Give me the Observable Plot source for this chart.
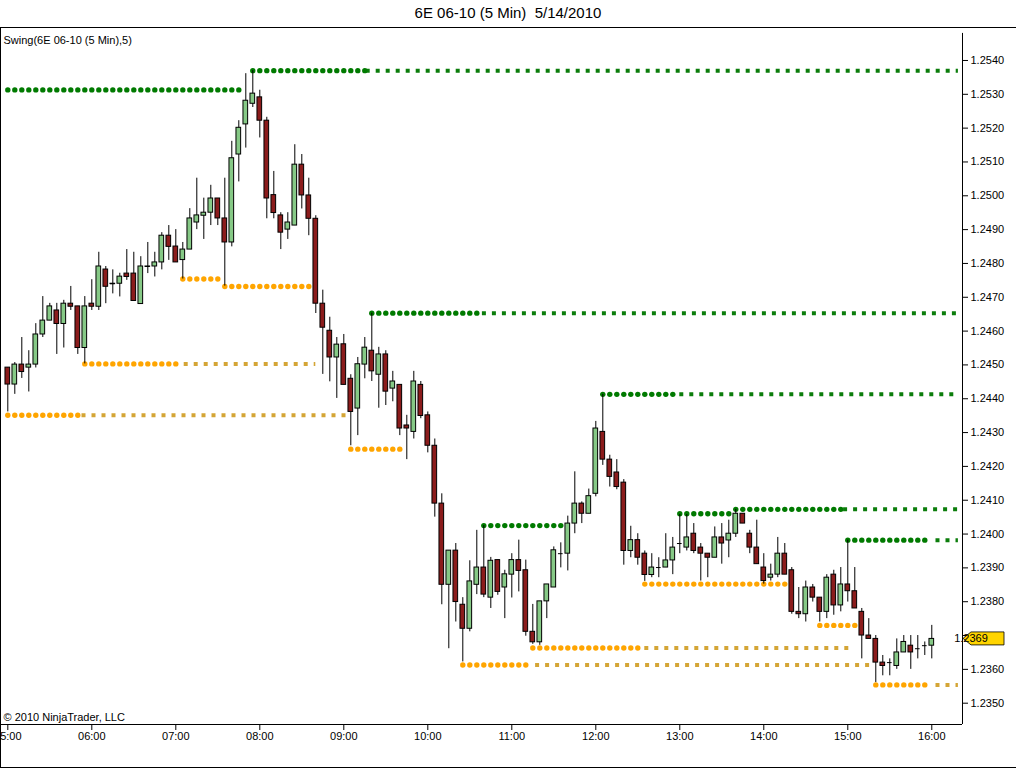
<!DOCTYPE html>
<html>
<head>
<meta charset="utf-8">
<script src="https://cdn.jsdelivr.net/npm/d3@7"></script>
<script src="https://cdn.jsdelivr.net/npm/@observablehq/plot@0.6"></script>
<style>
  body { margin: 0; background: #fff; font-family: "Liberation Sans", Arial, sans-serif; }
  #wrap { position: relative; width: 1016px; height: 768px; overflow: hidden; }
  #title { height: 27px; line-height: 25px; text-align: center; font-size: 15px; white-space: pre; color: #000; }
  #border { position: absolute; left: 0; top: 27px; width: 1016px; height: 741px; box-sizing: border-box;
            border-top: 1px solid #000; border-left: 1px solid #000; border-bottom: 1px solid #000; pointer-events: none; }
</style>
</head>
<body>
<div id="wrap">
  <div id="title">6E 06-10 (5 Min)  5/14/2010</div>
  <div id="chart"></div>
  <div id="border"></div>
</div>
<script>
// 5-minute bars, 05:00 .. 16:00
const firstBar = "05:00";

const open = [
  1.24492,1.24442,1.24501,1.24492,1.24501,1.24590,1.24631,1.24661,1.24621,1.24681,
  1.24673,1.24550,1.24681,1.24672,1.24782,1.24739,1.24740,1.24770,1.24770,1.24680,
  1.24790,1.24791,1.24803,1.24882,1.24850,1.24810,1.24841,1.24921,1.24941,1.24950,
  1.24992,1.24933,1.24862,1.25122,1.25211,1.25272,1.25291,1.25222,1.25002,1.24942,
  1.24900,1.24912,1.25092,1.25001,1.24932,1.24681,1.24601,1.24522,1.24561,1.24459,
  1.24371,1.24501,1.24542,1.24471,1.24531,1.24430,1.24441,1.24321,1.24302,1.24441,
  1.24351,1.24261,1.24090,1.23850,1.23951,1.23791,1.23720,1.23850,1.23901,1.23812,
  1.23923,1.23842,1.23880,1.23923,1.23893,1.23711,1.23680,1.23801,1.23842,1.23942,
  1.23942,1.24031,1.24090,1.24060,1.24119,1.24302,1.24220,1.24182,1.24152,1.23950,
  1.23982,1.23942,1.23879,1.23901,1.23901,1.23922,1.23972,1.23960,1.24001,1.23960,
  1.23942,1.23930,1.23990,1.23981,1.24001,1.24060,1.24001,1.23960,1.23901,1.23871,
  1.23880,1.23942,1.23893,1.23770,1.23763,1.23842,1.23812,1.23770,1.23880,1.23789,
  1.23851,1.23831,1.23770,1.23700,1.23690,1.23620,1.23620,1.23610,1.23650,1.23670,
  1.23661,1.23670,1.23670
];
const high = [
  1.24492,1.24507,1.24581,1.24542,1.24622,1.24702,1.24682,1.24682,1.24691,1.24732,
  1.24673,1.24702,1.24752,1.24833,1.24791,1.24781,1.24771,1.24841,1.24833,1.24820,
  1.24862,1.24833,1.24891,1.24912,1.24900,1.24862,1.24962,1.25052,1.24993,1.25031,
  1.24992,1.25052,1.25161,1.25222,1.25361,1.25370,1.25312,1.25232,1.25072,1.24950,
  1.24950,1.25151,1.25122,1.25052,1.24941,1.24721,1.24641,1.24581,1.24590,1.24471,
  1.24522,1.24581,1.24653,1.24552,1.24542,1.24481,1.24441,1.24351,1.24481,1.24451,
  1.24361,1.24281,1.24119,1.23951,1.23972,1.23812,1.23921,1.24011,1.24025,1.23931,
  1.23923,1.23893,1.23942,1.23982,1.23923,1.23792,1.23801,1.23851,1.23962,1.23974,
  1.24053,1.24184,1.24095,1.24133,1.24333,1.24413,1.24233,1.24220,1.24161,1.24023,
  1.24001,1.23950,1.23942,1.23930,1.24001,1.23990,1.24058,1.24058,1.24031,1.23972,
  1.23942,1.24021,1.24031,1.24041,1.24073,1.24060,1.24011,1.24041,1.23942,1.23911,
  1.23990,1.23972,1.23901,1.23842,1.23861,1.23851,1.23812,1.23880,1.23893,1.23901,
  1.23982,1.23901,1.23780,1.23750,1.23700,1.23641,1.23631,1.23690,1.23700,1.23700,
  1.23700,1.23681,1.23730
];
const low = [
  1.24361,1.24413,1.24460,1.24420,1.24491,1.24581,1.24631,1.24531,1.24550,1.24661,
  1.24531,1.24503,1.24661,1.24661,1.24681,1.24710,1.24701,1.24750,1.24689,1.24680,
  1.24770,1.24760,1.24781,1.24809,1.24803,1.24754,1.24841,1.24900,1.24871,1.24912,
  1.24912,1.24733,1.24849,1.25041,1.25141,1.25261,1.25171,1.24932,1.24932,1.24841,
  1.24871,1.24912,1.24961,1.24882,1.24652,1.24472,1.24450,1.24401,1.24441,1.24261,
  1.24291,1.24459,1.24451,1.24372,1.24380,1.24391,1.24291,1.24220,1.24281,1.24341,
  1.24240,1.24050,1.23791,1.23661,1.23740,1.23622,1.23711,1.23821,1.23812,1.23780,
  1.23819,1.23750,1.23811,1.23829,1.23698,1.23674,1.23671,1.23750,1.23842,1.23900,
  1.23891,1.24001,1.24031,1.24060,1.24110,1.24203,1.24139,1.24131,1.23908,1.23930,
  1.23908,1.23860,1.23871,1.23871,1.23901,1.23880,1.23942,1.23950,1.23942,1.23861,
  1.23871,1.23930,1.23911,1.23930,1.23990,1.24031,1.23942,1.23911,1.23852,1.23861,
  1.23871,1.23880,1.23763,1.23750,1.23740,1.23799,1.23740,1.23750,1.23760,1.23770,
  1.23799,1.23780,1.23631,1.23690,1.23561,1.23581,1.23581,1.23600,1.23650,1.23600,
  1.23631,1.23641,1.23631
];
const close = [
  1.24442,1.24501,1.24479,1.24501,1.24590,1.24631,1.24673,1.24621,1.24681,1.24672,
  1.24550,1.24673,1.24672,1.24791,1.24731,1.24740,1.24761,1.24760,1.24689,1.24791,
  1.24791,1.24803,1.24882,1.24849,1.24803,1.24841,1.24933,1.24942,1.24950,1.24992,
  1.24933,1.24862,1.25111,1.25201,1.25281,1.25302,1.25222,1.24992,1.24949,1.24891,
  1.24921,1.25092,1.25001,1.24932,1.24681,1.24610,1.24522,1.24560,1.24441,1.24361,
  1.24502,1.24551,1.24481,1.24531,1.24421,1.24451,1.24312,1.24312,1.24451,1.24349,
  1.24261,1.24090,1.23850,1.23951,1.23799,1.23720,1.23860,1.23901,1.23821,1.23921,
  1.23829,1.23881,1.23923,1.23891,1.23711,1.23680,1.23801,1.23851,1.23952,1.23942,
  1.24031,1.24090,1.24060,1.24112,1.24312,1.24220,1.24169,1.24139,1.23950,1.23982,
  1.23930,1.23879,1.23901,1.23901,1.23922,1.23960,1.23972,1.23990,1.23950,1.23942,
  1.23930,1.23990,1.23972,1.24001,1.24060,1.24031,1.23960,1.23911,1.23861,1.23880,
  1.23942,1.23880,1.23770,1.23763,1.23842,1.23812,1.23770,1.23871,1.23789,1.23851,
  1.23831,1.23780,1.23700,1.23690,1.23620,1.23610,1.23620,1.23650,1.23681,1.23650,
  1.23661,1.23670,1.23690
];

// Swing(5) levels: value, first and last bar (1-based) carrying a dot
const swingHighValue = [1.25313, 1.25370, 1.24653, 1.24025, 1.24413, 1.24060, 1.24073, 1.23982];
const swingHighFrom  = [1, 36, 53, 69, 86, 97, 105, 121];
const swingHighTo    = [34, 52, 68, 80, 96, 104, 120, 132];

const swingLowValue = [1.24351, 1.24503, 1.24754, 1.24732, 1.24251, 1.23613, 1.23663, 1.23852, 1.23730, 1.23554];
const swingLowFrom  = [1, 12, 26, 32, 50, 66, 76, 92, 117, 125];
const swingLowTo    = [11, 25, 31, 44, 57, 75, 91, 112, 122, 132];

// untouched levels drawn on as square dots
const highExtValue = [1.25370, 1.24653, 1.24413, 1.24073, 1.23982];
const highExtFrom  = ["09:16", "10:39", "13:00", "14:57", "16:03"];
const highExtTo    = ["16:19", "16:19", "16:19", "16:19", "16:19"];
const lowExtValue  = [1.24351, 1.24503, 1.23613, 1.23663, 1.23554];
const lowExtFrom   = ["05:53", "07:06", "11:17", "12:35", "16:03"];
const lowExtTo     = ["09:05", "08:40", "15:19", "15:04", "16:19"];

const hourTicks  = ["05:00","06:00","07:00","08:00","09:00","10:00","11:00","12:00","13:00","14:00","15:00","16:00"];
const priceTicks = [1.2350,1.2360,1.2370,1.2380,1.2390,1.2400,1.2410,1.2420,1.2430,1.2440,
                    1.2450,1.2460,1.2470,1.2480,1.2490,1.2500,1.2510,1.2520,1.2530,1.2540];

const xDomainText = ["04:54:47", "16:21:56"];
const yDomain = [1.23437, 1.254975];

const at = s => {
  const [h, m, sec] = s.split(":").map(Number);
  return new Date(Date.UTC(2010, 4, 14, h, m, sec || 0));
};
const t0 = at(firstBar);
const bars = open.map((o, i) => ({
  t: new Date(+t0 + i * 300000), o, h: high[i], l: low[i], c: close[i]
}));
const shift = (d, ms) => new Date(+d + ms);

const dotsOf = (vals, from, to) => vals.flatMap((v, k) =>
  bars.slice(from[k] - 1, to[k]).map(b => ({t: b.t, v})));
const extOf = (vals, from, to) => vals.map((v, k) => ({v, a: at(from[k]), b: at(to[k])}));

const highDots = dotsOf(swingHighValue, swingHighFrom, swingHighTo);
const lowDots  = dotsOf(swingLowValue, swingLowFrom, swingLowTo);
const highExt  = extOf(highExtValue, highExtFrom, highExtTo);
const lowExt   = extOf(lowExtValue, lowExtFrom, lowExtTo);
const doji = bars.filter(b => Math.abs(b.c - b.o) < 0.00004);

const xDomain = xDomainText.map(at);
const last = close[close.length - 1];
const fmt = d3.format(".4f");
// the last-price tag hides the axis label it sits on
const priceLabel = v => Math.abs(v - last) < 0.0004 ? "" : fmt(v);

const chart = Plot.plot({
  width: 1016,
  height: 741,
  marginLeft: 0,
  marginRight: 54,
  marginTop: 0,
  marginBottom: 44,
  x: {type: "utc", domain: xDomain},
  y: {domain: yDomain},
  style: {fontFamily: "'Liberation Sans', Arial, sans-serif", fontSize: "11px", color: "#000", background: "transparent"},
  marks: [
    Plot.ruleY([yDomain[0]], {stroke: "#000"}),
    Plot.ruleX([xDomain[1]], {y1: 1.2548, y2: yDomain[0], stroke: "#000"}),
    Plot.axisY({anchor: "right", ticks: priceTicks, tickFormat: priceLabel, tickSize: 5, tickPadding: 3, label: null, strokeOpacity: 1}),
    Plot.axisX({anchor: "bottom", ticks: hourTicks.map(at), tickFormat: d3.utcFormat("%H:%M"), tickSize: 6, tickPadding: 2, label: null, strokeOpacity: 1}),

    Plot.ruleY(highExt, {y: "v", x1: "a", x2: "b", stroke: "#0b7d0b", strokeWidth: 4, strokeDasharray: "4,6"}),
    Plot.ruleY(lowExt, {y: "v", x1: "a", x2: "b", stroke: "#d4a535", strokeWidth: 4, strokeDasharray: "4,6"}),
    Plot.dot(highDots, {x: "t", y: "v", r: 2.7, fill: "#007a00", stroke: null}),
    Plot.dot(lowDots, {x: "t", y: "v", r: 2.7, fill: "#ffa500", stroke: null}),

    Plot.ruleX(bars, {x: "t", y1: "l", y2: "h", stroke: "#000", strokeWidth: 1}),
    Plot.rect(bars, {
      x1: d => shift(d.t, -100000), x2: d => shift(d.t, 100000),
      y1: "o", y2: "c",
      fill: d => d.c >= d.o ? "#86c986" : "#8b1c1c",
      stroke: "#000", strokeWidth: 1
    }),
    Plot.ruleY(doji, {y: "c", x1: d => shift(d.t, -100000), x2: d => shift(d.t, 100000), stroke: "#000"}),

    Plot.text(["Swing(6E 06-10 (5 Min),5)"], {text: d => d, frameAnchor: "top-left", dx: 3, dy: 13, textAnchor: "start", lineAnchor: "middle", fontSize: 11}),
    Plot.text(["© 2010 NinjaTrader, LLC"], {text: d => d, frameAnchor: "bottom-left", dx: 3, dy: -7, textAnchor: "start", lineAnchor: "middle", fontSize: 11})
  ]
});

// last price marker on the price axis
const yl = chart.scale("y").apply(last);
const xr = chart.scale("x").apply(xDomain[1]);
const svg = d3.select(chart);
svg.append("path")
  .attr("d", `M${xr + 1},${yl} L${xr + 9},${yl - 6.5} H${xr + 42} V${yl + 6.5} H${xr + 9} Z`)
  .attr("fill", "#ffd400").attr("stroke", "#000").attr("stroke-width", 0.8);
svg.append("text")
  .attr("x", xr + 9).attr("y", yl).attr("dy", "0.35em")
  .attr("font-size", 11).attr("fill", "#000")
  .text(fmt(last));

document.getElementById("chart").append(chart);
</script>
</body>
</html>
